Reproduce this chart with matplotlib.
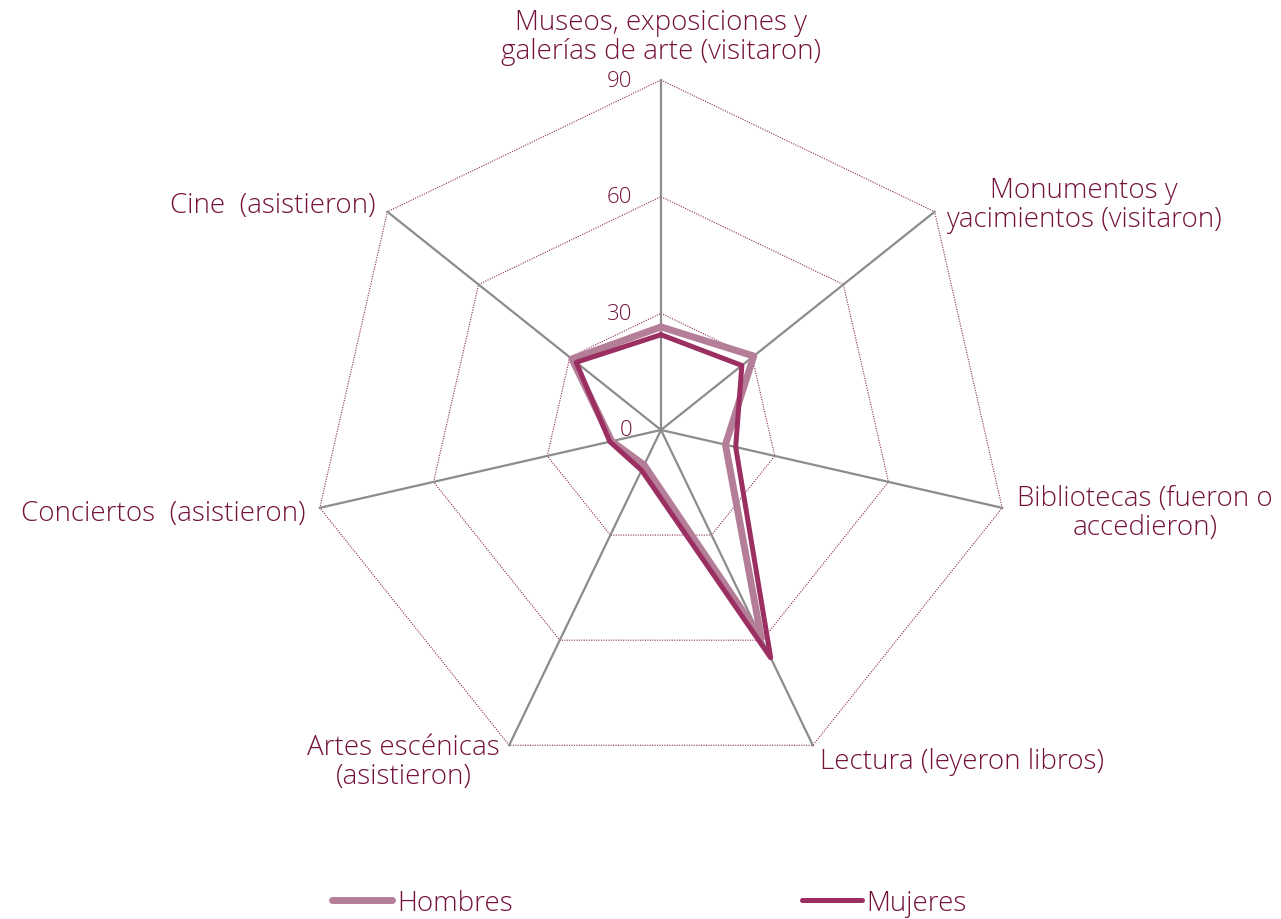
import numpy as np
import matplotlib
matplotlib.use("Agg")
import matplotlib.pyplot as plt
from matplotlib.lines import Line2D

categories = [
    "Museos, exposiciones y\ngalerías de arte (visitaron)",
    "Monumentos y\nyacimientos (visitaron)",
    "Bibliotecas (fueron o\naccedieron)",
    "Lectura (leyeron libros)",
    "Artes escénicas\n(asistieron)",
    "Conciertos  (asistieron)",
    "Cine  (asistieron)",
]
hombres = [26.5, 30.5, 17.0, 59.5, 10.0, 13.0, 29.3]
mujeres = [24.5, 26.6, 19.7, 65.0, 11.5, 13.5, 27.9]
ticks = [0, 30, 60, 90]
tick_labels = ["0", "30", "60", "90"]

plt.rcParams['font.family'] = ['Open Sans', 'DejaVu Sans']
plt.rcParams['font.weight'] = 'light'
TXT = '#74123d'
C_H = '#b57e98'
C_M = '#9b2f62'

fig = plt.figure(figsize=(12.81, 9.2), dpi=100)
ax = fig.add_axes([0.2428, 0.1511, 0.5464, 0.7609], projection='polar')
ax.set_theta_offset(np.pi / 2)
ax.set_theta_direction(-1)
ax.set_ylim(0, 90)
ax.set_xticks([])
ax.set_yticks([])
ax.grid(False)
ax.spines['polar'].set_visible(False)
ax.patch.set_alpha(0)

n = len(categories)
th = np.arange(n) * 2 * np.pi / n
th_c = np.append(th, th[0])

# polygon gridlines
for r in ticks[1:]:
    ax.plot(th_c, [r] * (n + 1), linestyle=(0, (1, 1.2)), lw=0.8, color='#8a2a5a', clip_on=False, zorder=1)
# spokes
for t in th:
    ax.plot([t, t], [0, 90], color='#8c8c8c', lw=1.6, clip_on=False, zorder=2)

ax.plot(th_c, np.append(hombres, hombres[0]), color=C_H, lw=5, solid_joinstyle='round',
        solid_capstyle='round', clip_on=False, zorder=3)
ax.plot(th_c, np.append(mujeres, mujeres[0]), color=C_M, lw=3.6, solid_joinstyle='round',
        solid_capstyle='round', clip_on=False, zorder=4)

# tick labels
for r, lab in zip(ticks, tick_labels):
    ax.annotate(lab, xy=(0, r), xytext=(-29, 0), textcoords='offset pixels',
                ha='right', va='center', fontsize=16, color=TXT)

# category labels
specs = [
    ('center', 'bottom', (0, 15)),
    ('left', 'center', (11, 7)),
    ('left', 'center', (15, -5)),
    ('left', 'center', (7, -16)),
    ('right', 'center', (-9, -16)),
    ('right', 'center', (-14, -5)),
    ('right', 'center', (-12, 7)),
]
for t, lab, (ha, va, off) in zip(th, categories, specs):
    ax.annotate(lab, xy=(t, 90), xytext=off, textcoords='offset pixels',
                ha=ha, va=va, multialignment='center', fontsize=20, color=TXT,
                linespacing=1.06, annotation_clip=False)

handles = [Line2D([], [], color=C_H, lw=5, solid_capstyle='round'),
           Line2D([], [], color=C_M, lw=3.6, solid_capstyle='round')]
leg = fig.legend(handles, ['Hombres', 'Mujeres'], loc='center left',
                 bbox_to_anchor=(332 / 1281, 1 - 904 / 920), ncol=2, frameon=False,
                 fontsize=20, handlelength=2.16, handletextpad=0.18, columnspacing=10.4,
                 borderpad=0, borderaxespad=0)
for tx in leg.get_texts():
    tx.set_color(TXT)

fig.savefig('out.png', dpi=100)
